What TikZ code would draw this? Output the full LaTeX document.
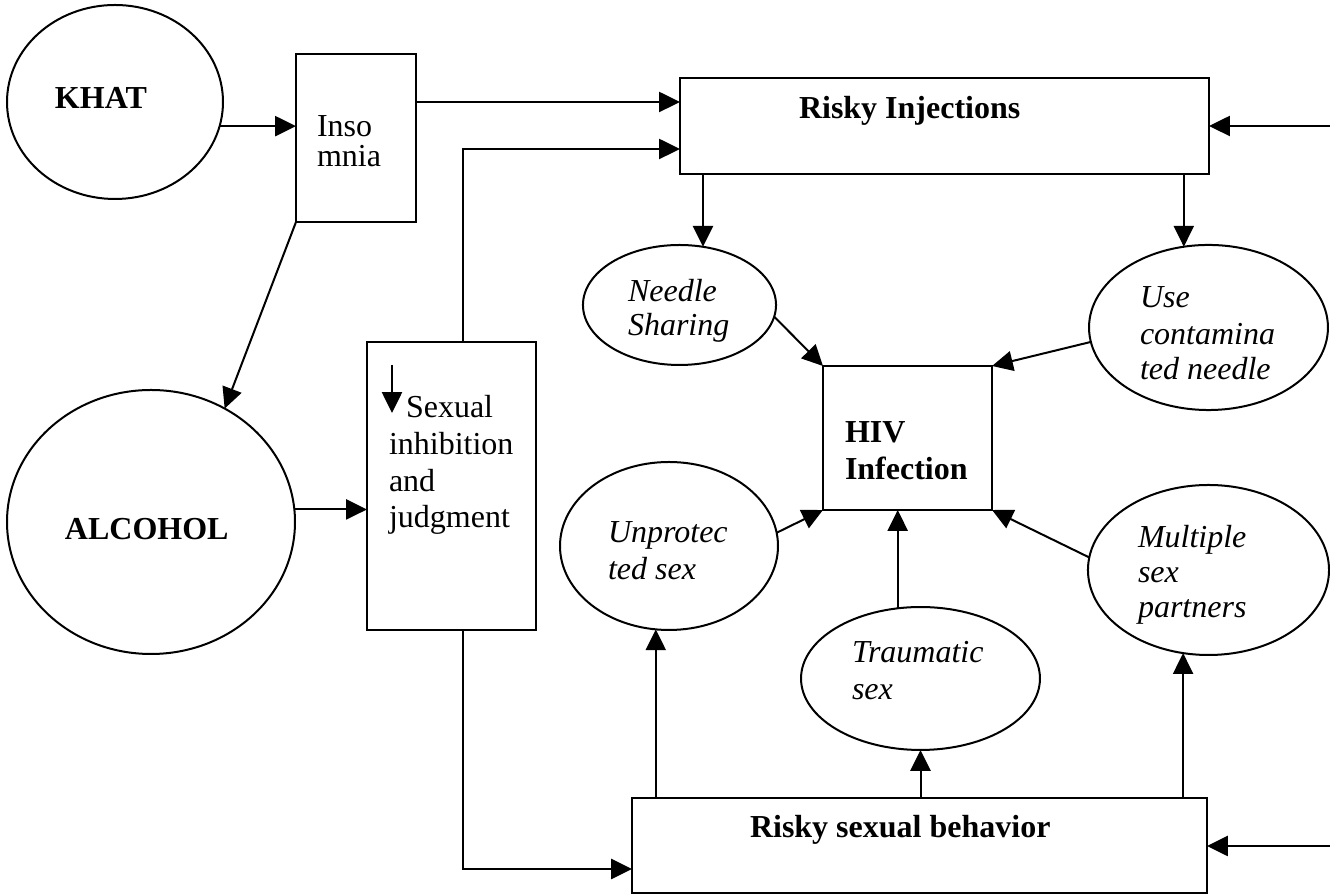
\documentclass[tikz,border=0pt]{standalone}
\usepackage{fontspec}
\setmainfont{Liberation Serif}
\usetikzlibrary{shapes.geometric,arrows.meta}

\begin{document}
\begin{tikzpicture}[x=0.375pt, y=-0.375pt, line width=0.75pt,
  shp/.style={draw, inner sep=0pt, outer sep=0pt},
  oval/.style={shp, ellipse},
  box/.style={shp, rectangle},
  lab/.style={anchor=base west, inner sep=0pt, font=\fontsize{12}{13.8}\selectfont},
  labb/.style={lab, font=\fontsize{12}{13.8}\selectfont\bfseries},
  labi/.style={lab, font=\fontsize{12}{13.8}\selectfont\itshape},
  arr/.style={-{Triangle[length=7.8pt,width=7.5pt]}}]
\useasboundingbox (0,0) rectangle (1330,896);

% shapes
\node[oval, minimum width=81pt, minimum height=72.75pt] (khat) at (115,102) {};
\node[box, minimum width=45pt, minimum height=63pt] (inso) at (356,138) {};
\node[oval, minimum width=108pt, minimum height=99pt] (alc) at (151,522) {};
\node[box, minimum width=63.4pt, minimum height=108pt] (inhib) at (451.5,486) {};
\node[box, minimum width=198.4pt, minimum height=36pt] (inj) at (944.5,126) {};
\node[oval, minimum width=72.4pt, minimum height=45pt] (needle) at (679.5,305) {};
\node[oval, minimum width=89.6pt, minimum height=61.9pt] (usec) at (1208.5,327.5) {};
\node[box, minimum width=63.4pt, minimum height=54pt] (hiv) at (907.5,438) {};
\node[oval, minimum width=81.75pt, minimum height=63pt] (unp) at (669,546) {};
\node[oval, minimum width=89.6pt, minimum height=53.6pt] (trau) at (920.5,678.5) {};
\node[oval, minimum width=90.4pt, minimum height=63.75pt] (mult) at (1208.5,570) {};
\node[box, minimum width=215.6pt, minimum height=35.6pt] (rsb) at (919.5,845.5) {};

% texts
\node[labb] (tkhat) at (54,109) {KHAT};
\node[lab] (tins1) at (316,137) {Inso};
\node[lab] (tins2) at (316,167) {mnia};
\node[labb] (tinj) at (798,119) {Risky Injections};
\node[labb] (talc) at (64,540) {ALCOHOL};
\node[lab] (tinh1) at (405,418) {Sexual};
\node[lab] (tinh2) at (388,455) {inhibition};
\node[lab] (tinh3) at (388,492) {and};
\node[lab] (tinh4) at (388,528) {judgment};
\node[labi] (tnee1) at (627,302) {Needle};
\node[labi] (tnee2) at (627,336) {Sharing};
\node[labi] (tuse1) at (1139,308) {Use};
\node[labi] (tuse2) at (1139,345) {contamina};
\node[labi] (tuse3) at (1139,380) {ted needle};
\node[labb] (thiv1) at (844,443) {HIV};
\node[labb] (thiv2) at (844,480) {Infection};
\node[labi] (tunp1) at (607,543) {Unprotec};
\node[labi] (tunp2) at (607,580) {ted sex};
\node[labi] (tmul1) at (1137,548) {Multiple};
\node[labi] (tmul2) at (1137,583) {sex};
\node[labi] (tmul3) at (1137,618) {partners};
\node[labi] (ttra1) at (851,663) {Traumatic};
\node[labi] (ttra2) at (851,700) {sex};
\node[labb] (trsb) at (749,838) {Risky sexual behavior};

% bends and free ends
\coordinate (up) at (463,149);
\coordinate (dn) at (463,869);
\coordinate (rin) at (1330,126);
\coordinate (rsx) at (1330,846);
\coordinate (top) at (0,102);

% arrows
\draw[arr] (392,365) -- (392,413);
\draw[arr] (khat.-13) -- (khat.-13 -| inso.west);
\draw[arr] (inso.east |- top) -- (inj.west |- top);
\draw[arr] (inso.south west) -- (alc.57);
\draw[arr] (alc.5) -- (alc.5 -| inhib.west);
\draw[arr] (inhib.north -| up) -- (up) -- (up -| inj.west);
\draw[arr] (inhib.south -| dn) -- (dn) -- (dn -| rsb.west);
\draw[arr] (rin) -- (rin -| inj.east);
\draw[arr] (rsx) -- (rsx -| rsb.east);
\draw[arr] (needle.68 |- inj.south) -- (needle.68);
\draw[arr] (usec.107 |- inj.south) -- (usec.107);
\draw[arr] (needle.-7) -- (hiv.north west);
\draw[arr] (usec.187) -- (hiv.north east);
\draw[arr] (unp.7) -- (hiv.south west);
\draw[arr] (trau.108) -- (trau.108 |- hiv.south);
\draw[arr] (mult.174) -- (hiv.south east);
\draw[arr] (unp.261 |- rsb.north) -- (unp.261);
\draw[arr] (trau.south |- rsb.north) -- (trau.south);
\draw[arr] (mult.253 |- rsb.north) -- (mult.253);

\end{tikzpicture}
\end{document}
